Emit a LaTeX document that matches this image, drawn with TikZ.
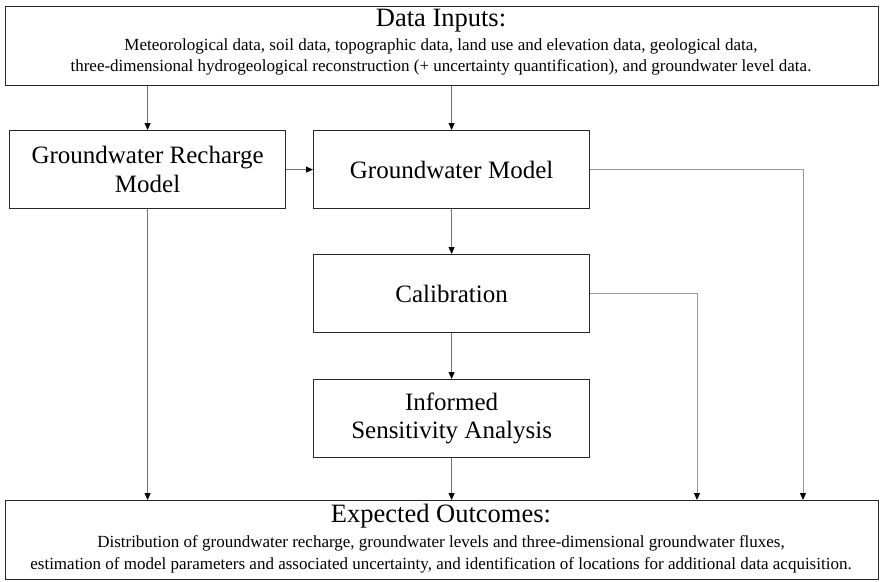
\documentclass[tikz,border=0pt]{standalone}
\usepackage{fontspec}
\setmainfont{Liberation Serif}
\usetikzlibrary{arrows.meta}
\begin{document}
\begin{tikzpicture}[x=1pt,y=-1pt,
  box/.style={draw=black!85, line width=1.2pt, minimum width=276pt, minimum height=78pt, anchor=north west, align=center, font=\fontsize{25}{28.5}\selectfont, inner sep=0pt},
  wide/.style={draw=black!85, line width=1.2pt, minimum width=873pt, minimum height=79pt, anchor=north west, inner sep=0pt},
  ttl/.style={font=\fontsize{26.5}{28}\selectfont, inner sep=0pt},
  small/.style={font=\fontsize{17}{20}\selectfont, inner sep=0pt},
  conn/.style={draw=black!55, line width=0.8pt, -{Triangle[length=7pt,width=6pt,color=black]}},
  connl/.style={draw=black!40, line width=1pt, -{Triangle[length=7pt,width=6pt,color=black]}},
]
\useasboundingbox (0,0) rectangle (880,581);
% top box
\node[wide] (top) at (5,6) {};
\node[ttl] (topt) at (441,21) {Data Inputs:};
\node[small] (topa) at (441,46) {Meteorological data, soil data, topographic data, land use and elevation data, geological data,};
\node[small] (topb) at (441,67) {three-dimensional hydrogeological reconstruction (+ uncertainty quantification), and groundwater level data.};
% middle boxes
\node[box] (rech) at (9,130) {Groundwater Recharge\\Model};
\node[box] (gm) at (313,130) {Groundwater Model};
\node[box] (cal) at (313,254) {Calibration};
\node[box] (isa) at (313,379) {Informed\\Sensitivity Analysis};
% bottom box
\node[wide] (bot) at (5,500) {};
\node[ttl] (bott) at (441,516) {Expected Outcomes:};
\node[small] (bota) at (441,543) {Distribution of groundwater recharge, groundwater levels and three-dimensional groundwater fluxes,};
\node[small] (botb) at (441,565) {estimation of model parameters and associated uncertainty, and identification of locations for additional data acquisition.};
% connectors
\draw[conn] (top.south -| rech.north) -- (rech.north);
\draw[conn] (top.south -| gm.north) -- (gm.north);
\draw[conn] (rech.east) -- (gm.west);
\draw[conn] (gm.south) -- (cal.north);
\draw[conn] (cal.south) -- (isa.north);
\draw[conn] (isa.south) -- (isa.south |- bot.north);
\draw[conn] (rech.south) -- (rech.south |- bot.north);
\coordinate (c1) at (803,500);
\coordinate (c2) at (697,500);
\draw[connl] (gm.east) -| (c1);
\draw[connl] (cal.east) -| (c2);
\end{tikzpicture}
\end{document}
